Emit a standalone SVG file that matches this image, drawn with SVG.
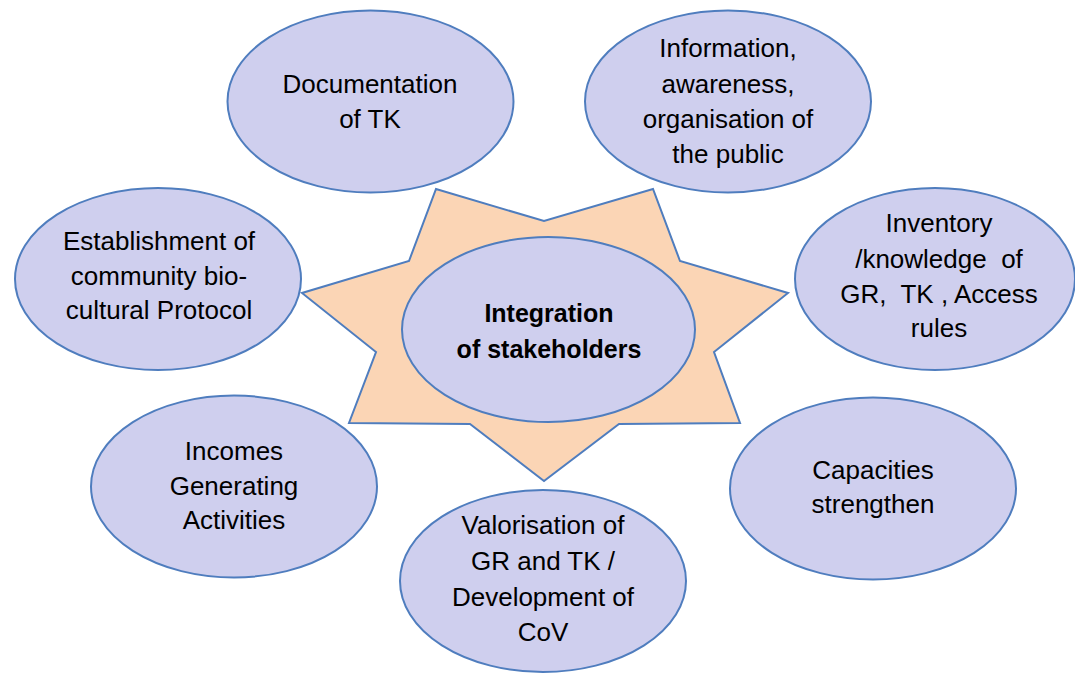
<svg xmlns="http://www.w3.org/2000/svg" width="1075" height="673" viewBox="0 0 1075 673">
<style>
.n{fill:#CFCFEE;stroke:#4F7DBE;stroke-width:2}
.t{font-family:"Liberation Sans",Arial,sans-serif;font-size:26px;fill:#000;text-anchor:middle;white-space:pre}
.b{font-weight:bold;font-size:25px}
</style>
<rect width="1075" height="673" fill="#fff"/>
<g id="star">
<polygon points="436,189 544,221 653,189 680,261 788,293 714,352 740,423 619,424 544,481 470,424 349,423 376,352 302,293 409,261" fill="#FBD5B5" stroke="#4F7DBE" stroke-width="2"/>
</g>
<g id="center">
<ellipse class="n" cx="548.5" cy="329.5" rx="146.5" ry="92.5"/>
<text class="t b" x="549" y="322">Integration</text>
<text class="t b" x="549" y="358">of stakeholders</text>
</g>
<g id="documentation">
<ellipse class="n" cx="370.5" cy="101.5" rx="143" ry="91"/>
<text class="t" x="370" y="93">Documentation</text>
<text class="t" x="370" y="128">of TK</text>
</g>
<g id="information">
<ellipse class="n" cx="728" cy="101.5" rx="143" ry="91"/>
<text class="t" x="728" y="57">Information,</text>
<text class="t" x="728" y="93">awareness,</text>
<text class="t" x="728" y="128">organisation of</text>
<text class="t" x="728" y="163">the public</text>
</g>
<g id="establishment">
<ellipse class="n" cx="158" cy="279" rx="143" ry="91"/>
<text class="t" x="159" y="250">Establishment of</text>
<text class="t" x="159" y="285">community bio-</text>
<text class="t" x="159" y="319">cultural Protocol</text>
</g>
<g id="inventory">
<ellipse class="n" cx="935" cy="279" rx="140" ry="91"/>
<text class="t" x="939" y="232">Inventory</text>
<text class="t" x="939" y="268">/knowledge  of</text>
<text class="t" x="939" y="303">GR,  TK , Access</text>
<text class="t" x="939" y="337">rules</text>
</g>
<g id="incomes">
<ellipse class="n" cx="234" cy="486.5" rx="143" ry="91"/>
<text class="t" x="234" y="460">Incomes</text>
<text class="t" x="234" y="495">Generating</text>
<text class="t" x="234" y="529">Activities</text>
</g>
<g id="capacities">
<ellipse class="n" cx="873" cy="488.5" rx="143" ry="91"/>
<text class="t" x="873" y="479">Capacities</text>
<text class="t" x="873" y="513">strengthen</text>
</g>
<g id="valorisation">
<ellipse class="n" cx="543" cy="581" rx="143" ry="91"/>
<text class="t" x="543" y="534">Valorisation of</text>
<text class="t" x="543" y="570">GR and TK /</text>
<text class="t" x="543" y="606">Development of</text>
<text class="t" x="543" y="641">CoV</text>
</g>
<g id="connectors"/>
</svg>
